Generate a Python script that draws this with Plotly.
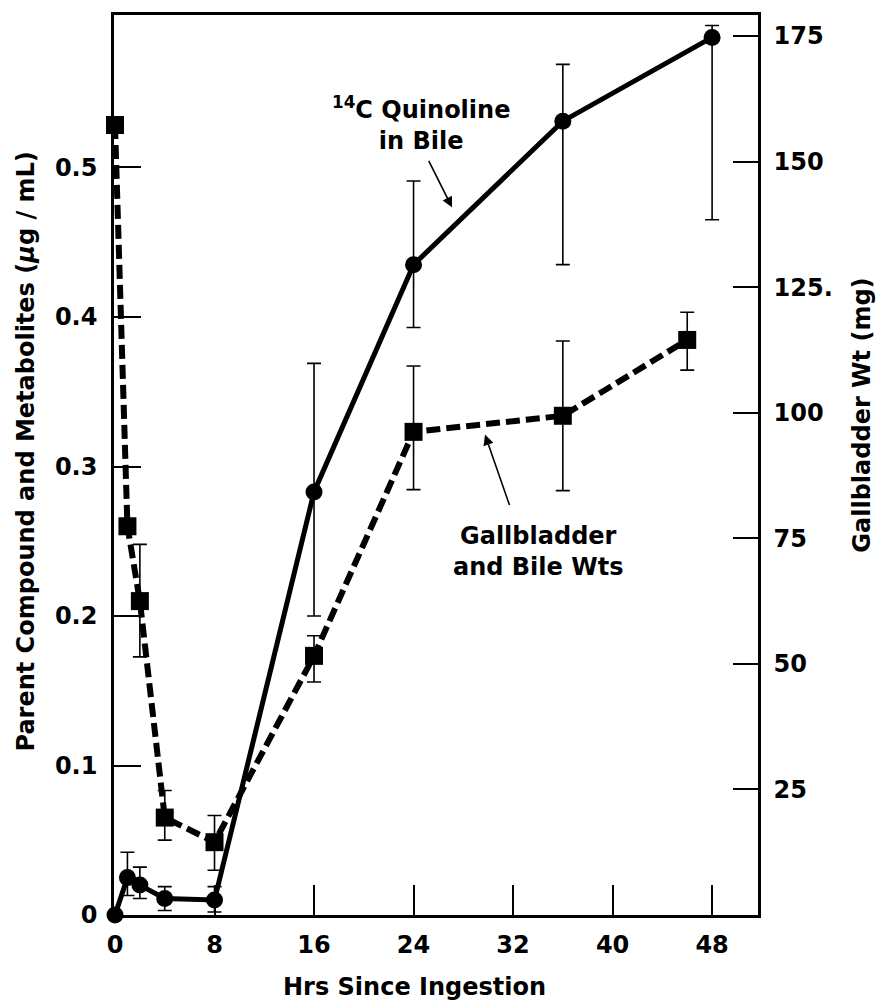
import plotly.graph_objects as go

# ---- data ----
quin_hours = [0, 1, 2, 4, 8, 16, 24, 36, 48]
quin_conc = [0.0, 0.025, 0.020, 0.011, 0.010, 0.283, 0.435, 0.531, 0.587]
quin_err_plus = [0, 0.017, 0.012, 0.008, 0.009, 0.086, 0.056, 0.038, 0.008]
quin_err_minus = [0, 0.012, 0.009, 0.008, 0.008, 0.083, 0.042, 0.096, 0.122]

gb_hours = [0, 1, 2, 4, 8, 16, 24, 36, 46]
gb_wt = [157.3, 77.4, 62.5, 19.4, 14.5, 51.6, 96.2, 99.4, 114.5]
gb_err_plus = [0, 0, 11.3, 5.4, 5.3, 4.0, 13.1, 14.9, 5.5]
gb_err_minus = [0, 0, 11.1, 4.5, 5.6, 5.2, 11.5, 14.9, 6.0]

x_ticks = [0, 8, 16, 24, 32, 40, 48]
left_ticks = [0, 0.1, 0.2, 0.3, 0.4, 0.5]
left_ticktext = ["0", "0.1", "0.2", "0.3", "0.4", "0.5"]
right_ticks = [25, 50, 75, 100, 125, 150, 175]
right_ticktext = ["25", "50", "75", "100", "125.", "150", "175"]

FONT = "DejaVu Sans, Arial, sans-serif"
W, H = 878, 1005
L, R, T, B = 114, 120, 12, 90
PW, PH = W - L - R, H - T - B


def px(xp):
    return (xp - L) / PW


def py(yp):
    return (H - B - yp) / PH


fig = go.Figure()

fig.add_trace(go.Scatter(
    x=gb_hours, y=gb_wt, yaxis="y2", mode="lines+markers",
    line=dict(color="black", width=6, dash="14px,6px"),
    marker=dict(symbol="square", size=18, color="black"),
    error_y=dict(type="data", symmetric=False, array=gb_err_plus,
                 arrayminus=gb_err_minus, color="black", thickness=1.6, width=7),
    cliponaxis=False, showlegend=False,
))

fig.add_trace(go.Scatter(
    x=quin_hours, y=quin_conc, mode="lines+markers",
    line=dict(color="black", width=5),
    marker=dict(symbol="circle", size=17, color="black"),
    error_y=dict(type="data", symmetric=False, array=quin_err_plus,
                 arrayminus=quin_err_minus, color="black", thickness=1.6, width=7),
    cliponaxis=False, showlegend=False,
))

axis_font = dict(family=FONT, size=24, color="black", weight="bold")
text_font = dict(family=FONT, size=24, color="black", weight="bold")

fig.update_layout(
    width=W, height=H,
    margin=dict(l=L, r=R, t=T, b=B),
    paper_bgcolor="white", plot_bgcolor="white",
    font=axis_font,
    xaxis=dict(
        range=[-0.08, 51.69], tickvals=x_ticks, ticks="inside", ticklen=30,
        tickwidth=2, tickcolor="black", showline=True, linewidth=2.5,
        linecolor="black", mirror=True, showgrid=False, zeroline=False,
        tickfont=axis_font, ticklabelstandoff=6,
    ),
    yaxis=dict(
        range=[0, 0.602], tickvals=left_ticks, ticktext=left_ticktext,
        ticks="inside", ticklen=27, tickwidth=2, tickcolor="black",
        showline=True, linewidth=2.5, linecolor="black", showgrid=False,
        zeroline=False, tickfont=axis_font, ticklabelstandoff=9,
    ),
    yaxis2=dict(
        range=[0, 179.2], overlaying="y", side="right", tickvals=right_ticks,
        ticktext=right_ticktext, ticks="inside", ticklen=25, tickwidth=2,
        tickcolor="black", showline=True, linewidth=2.5, linecolor="black",
        showgrid=False, zeroline=False, tickfont=axis_font,
        ticklabelstandoff=8,
    ),
    annotations=[
        dict(text="Parent Compound and Metabolites (<i>μ</i>g / mL)",
             xref="paper", yref="paper", x=px(26), y=py(450), textangle=-90,
             xanchor="center", yanchor="middle",
             showarrow=False, font=text_font),
        dict(text="Gallbladder Wt (mg)",
             xref="paper", yref="paper", x=px(862), y=py(414), textangle=-90,
             xanchor="center", yanchor="middle",
             showarrow=False, font=text_font),
        dict(text="Hrs Since Ingestion",
             xref="paper", yref="paper", x=px(414), y=py(987),
             xanchor="center", yanchor="middle",
             showarrow=False, font=text_font),
        dict(text="<sup>14</sup>C Quinoline<br>in Bile",
             xref="paper", yref="paper", x=px(421), y=py(121),
             xanchor="center", yanchor="middle",
             showarrow=False, font=text_font),
        dict(text="", xref="paper", yref="paper", x=px(452), y=py(205),
             ax=-24, ay=-48, showarrow=True, arrowhead=2, arrowsize=1.3,
             arrowwidth=1.6, arrowcolor="black"),
        dict(text="Gallbladder<br>and Bile Wts",
             xref="paper", yref="paper", x=px(538), y=py(550),
             xanchor="center", yanchor="middle",
             showarrow=False, font=text_font),
        dict(text="", xref="paper", yref="paper", x=px(485), y=py(433),
             ax=25, ay=72, showarrow=True, arrowhead=2, arrowsize=1.3,
             arrowwidth=1.6, arrowcolor="black"),
    ],
)

fig.write_html("out.html")
